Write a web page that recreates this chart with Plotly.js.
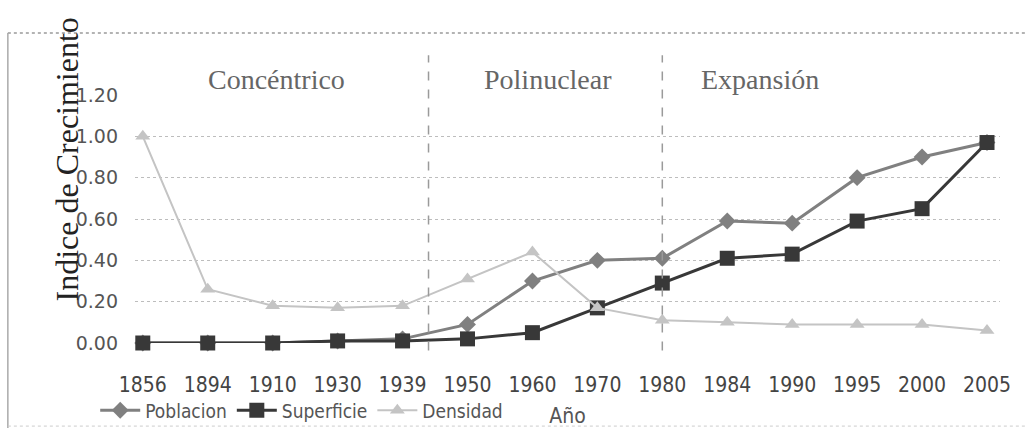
<!DOCTYPE html>
<html>
<head>
<meta charset="utf-8">
<script src="https://cdn.plot.ly/plotly-3.0.1.min.js"></script>
<style>html,body{margin:0;padding:0;background:#fff;}#chart{width:1025px;height:428px;}</style>
</head>
<body>
<div id="chart"></div>
<script>
const years = ["1856","1894","1910","1930","1939","1950","1960","1970","1980","1984","1990","1995","2000","2005"];
const poblacion  = [0.00,0.00,0.00,0.01,0.02,0.09,0.30,0.40,0.41,0.59,0.58,0.80,0.90,0.97];
const superficie = [0.00,0.00,0.00,0.01,0.01,0.02,0.05,0.17,0.29,0.41,0.43,0.59,0.65,0.97];
const densidad   = [1.00,0.26,0.18,0.17,0.18,0.31,0.44,0.17,0.11,0.10,0.09,0.09,0.09,0.06];
const yTicks = [0,0.2,0.4,0.6,0.8,1.0,1.2];
const yTickLabels = ["0.00","0.20","0.40","0.60","0.80","1.00","1.20"];
const phases = ["Concéntrico","Polinuclear","Expansión"];

const traces = [
  {x: years, y: poblacion, name: "Poblacion", type: "scatter", mode: "lines+markers",
   line: {color: "#808080", width: 3}, marker: {symbol: "diamond", size: 13, color: "#808080"}, cliponaxis: false},
  {x: years, y: superficie, name: "Superficie", type: "scatter", mode: "lines+markers",
   line: {color: "#383838", width: 3}, marker: {symbol: "square", size: 15, color: "#383838"}, cliponaxis: false},
  {x: years, y: densidad, name: "Densidad", type: "scatter", mode: "lines+markers",
   line: {color: "#c4c4c4", width: 2}, marker: {symbol: "triangle-up", size: 13, color: "#c4c4c4"}, cliponaxis: false}
];

const layout = {
  width: 1025, height: 428,
  paper_bgcolor: "#ffffff", plot_bgcolor: "#ffffff",
  margin: {l: 135, r: 25, t: 95, b: 85, autoexpand: false},
  showlegend: true,
  legend: {orientation: "h", x: -0.046, xanchor: "left", y: -0.195, yanchor: "top",
           font: {family: "DejaVu Sans Condensed", size: 19, color: "#555"},
           itemwidth: 40, tracegroupgap: 0, bgcolor: "rgba(0,0,0,0)"},
  xaxis: {type: "category", range: [-0.12, 13.2], showgrid: false, zeroline: false, showline: false,
          ticks: "", ticklabelstandoff: 27, automargin: false,
          tickfont: {family: "DejaVu Sans Condensed", size: 21, color: "#444"},
          title: {text: "Año", font: {family: "DejaVu Sans Condensed", size: 21, color: "#555"}, standoff: 17}},
  yaxis: {range: [0, 1.2], tickvals: yTicks, ticktext: yTickLabels, showgrid: true, automargin: false,
          gridcolor: "#bdbdbd", griddash: "dot", gridwidth: 1, zeroline: false, showline: false,
          ticks: "", ticklabelstandoff: 16,
          tickfont: {family: "DejaVu Sans", size: 19, color: "#555"}},
  annotations: [
    {text: "Indice de Crecimiento", xref: "paper", yref: "paper", x: 0, y: 0.74, xanchor: "center", yanchor: "middle",
     xshift: -68, textangle: -90, showarrow: false,
     font: {family: "Liberation Serif", size: 32, color: "#222"}},
    {text: phases[0], xref: "paper", yref: "paper", x: (276-135)/865, y: (343-80)/248, xanchor: "center", yanchor: "middle",
     showarrow: false, font: {family: "Liberation Serif", size: 28, color: "#666"}},
    {text: phases[1], xref: "paper", yref: "paper", x: (548-135)/865, y: (343-80)/248, xanchor: "center", yanchor: "middle",
     showarrow: false, font: {family: "Liberation Serif", size: 28, color: "#666"}},
    {text: phases[2], xref: "paper", yref: "paper", x: (760-135)/865, y: (343-80)/248, xanchor: "center", yanchor: "middle",
     showarrow: false, font: {family: "Liberation Serif", size: 28, color: "#666"}}
  ],
  shapes: [
    {type: "line", xref: "x", yref: "paper", x0: 4.4, x1: 4.4, y0: -0.03, y1: 1.16,
     line: {color: "#9a9a9a", width: 1.5, dash: "dash"}},
    {type: "line", xref: "x", yref: "paper", x0: 8, x1: 8, y0: -0.03, y1: 1.16,
     line: {color: "#9a9a9a", width: 1.5, dash: "dash"}},
    {type: "line", xref: "paper", yref: "paper", x0: -0.147, x1: 1.03, y0: 1.25, y1: 1.25,
     line: {color: "#9a9a9a", width: 1.5, dash: "dot"}},
    {type: "line", xref: "paper", yref: "paper", x0: -0.147, x1: -0.147, y0: 1.25, y1: -0.35,
     line: {color: "#aaaaaa", width: 1.5}},
    {type: "line", xref: "paper", yref: "paper", x0: -0.147, x1: 1.03, y0: -0.335, y1: -0.335,
     line: {color: "#cccccc", width: 1, dash: "dot"}}
  ]
};

Plotly.newPlot("chart", traces, layout, {displayModeBar: false, staticPlot: true});
</script>
</body>
</html>
